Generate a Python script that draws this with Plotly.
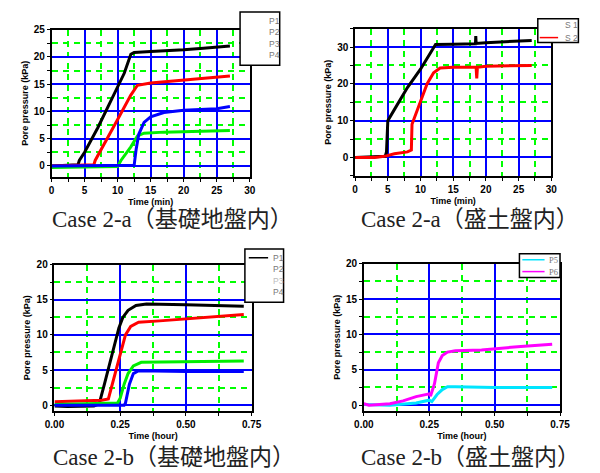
import plotly.graph_objects as go

W, H = 600, 473
def px(x): return x / W
def py(y): return 1 - y / H

# ---------------- data ----------------
# Case 2-a (foundation ground), time in min
a1_P1_t = [0, 2, 4.0, 4.2, 5, 7, 9, 11, 12.0, 12.5, 15, 18, 20, 23, 25, 27]
a1_P1_v = [0, 0.1, 0.2, 1.0, 2.5, 7, 12, 17, 20.5, 20.8, 21.0, 21.1, 21.3, 21.6, 21.8, 22.0]
a1_P2_t = [0, 3, 6.4, 6.6, 8, 10, 12, 13, 15, 18, 20, 23, 25, 27]
a1_P2_v = [0, 0.1, 0.2, 1.0, 4, 8.5, 13, 14.8, 15.2, 15.5, 15.8, 16.1, 16.3, 16.5]
a1_P3_t = [0, 5, 10, 10.5, 12, 13, 14, 17, 20, 23, 27]
a1_P3_v = [-0.3, -0.2, -0.1, 1.0, 3.5, 5.5, 6.0, 6.2, 6.3, 6.4, 6.5]
a1_P4_t = [0, 5, 12.5, 12.8, 13.2, 14, 15, 17, 20, 25, 27]
a1_P4_v = [0, 0, 0.1, 3.0, 5.8, 8.0, 9.0, 9.8, 10.2, 10.5, 10.9]

# Case 2-a (embankment), time in min
a2_S1_t = [0, 3, 4.6, 4.8, 5.0, 6, 8, 10, 12.3, 15, 18.4, 18.45, 18.5, 20, 25, 27]
a2_S1_v = [0, 0.1, 0.3, 1.5, 10, 13, 19, 24, 30.7, 30.8, 30.9, 33, 31, 31.2, 31.5, 31.8]
a2_S2_t = [0, 3, 4.5, 6, 8, 8.6, 8.7, 9, 10, 11, 12, 13, 15, 18.5, 18.6, 18.7, 20, 25, 27]
a2_S2_v = [0, 0, 0.3, 1.0, 1.5, 2.0, 9.0, 10.5, 15, 20, 23, 24.3, 24.5, 24.5, 21.5, 24.5, 24.8, 25, 25]

# Case 2-b (foundation ground), time in hour
b1_P1_t = [0, 0.05, 0.15, 0.17, 0.19, 0.21, 0.23, 0.245, 0.26, 0.28, 0.31, 0.35, 0.5, 0.72]
b1_P1_v = [-0.1, -0.2, -0.1, 0.2, 3, 6, 9, 11, 12.5, 13.5, 14.2, 14.4, 14.3, 14.1]
b1_P2_t = [0, 0.1, 0.18, 0.205, 0.22, 0.24, 0.255, 0.27, 0.29, 0.32, 0.4, 0.55, 0.72]
b1_P2_v = [0.5, 0.6, 0.7, 0.9, 3, 6, 8, 10, 11.2, 11.8, 12.0, 12.4, 12.9]
b1_P3_t = [0, 0.24, 0.25, 0.265, 0.28, 0.3, 0.33, 0.5, 0.72]
b1_P3_v = [0.1, 0.3, 1.0, 3.0, 4.5, 5.6, 6.1, 6.2, 6.3]
b1_P4_t = [0, 0.265, 0.27, 0.285, 0.3, 0.32, 0.5, 0.72]
b1_P4_v = [0, 0, 0.3, 3.0, 4.5, 4.9, 4.8, 4.8]

# Case 2-b (embankment), time in hour
b2_P5_t = [0, 0.1, 0.2, 0.25, 0.26, 0.28, 0.3, 0.32, 0.35, 0.5, 0.72]
b2_P5_v = [0.1, 0, 0.3, 0.7, 0.5, 1.5, 2.2, 2.6, 2.6, 2.5, 2.5]
b2_P6_t = [0, 0.02, 0.1, 0.15, 0.2, 0.25, 0.255, 0.27, 0.285, 0.3, 0.32, 0.35, 0.45, 0.5, 0.6, 0.72]
b2_P6_v = [0.2, 0, 0.2, 0.6, 1.2, 1.6, 1.3, 3, 6, 7, 7.5, 7.7, 7.8, 8.0, 8.3, 8.6]

captions = ["Case 2-a（基礎地盤内）", "Case 2-a（盛土盤内）",
            "Case 2-b（基礎地盤内）", "Case 2-b（盛土盤内）"]
y_title = "Pore pressure (kPa)"
x_titles = ["Time (min)", "Time (min)", "Time (hour)", "Time (hour)"]

# ---------------- figure ----------------
fig = go.Figure()
LW = 3
series = [
    ("x", "y", a1_P1_t, a1_P1_v, "black", "P1"),
    ("x", "y", a1_P2_t, a1_P2_v, "red", "P2"),
    ("x", "y", a1_P3_t, a1_P3_v, "#00ee00", "P3"),
    ("x", "y", a1_P4_t, a1_P4_v, "blue", "P4"),
    ("x2", "y2", a2_S1_t, a2_S1_v, "black", "S1"),
    ("x2", "y2", a2_S2_t, a2_S2_v, "red", "S2"),
    ("x3", "y3", b1_P1_t, b1_P1_v, "black", "P1"),
    ("x3", "y3", b1_P2_t, b1_P2_v, "red", "P2"),
    ("x3", "y3", b1_P3_t, b1_P3_v, "#00ee00", "P3"),
    ("x3", "y3", b1_P4_t, b1_P4_v, "blue", "P4"),
    ("x4", "y4", b2_P5_t, b2_P5_v, "#00e5ff", "P5"),
    ("x4", "y4", b2_P6_t, b2_P6_v, "#ff00ff", "P6"),
]
for xa, ya, t, v, c, n in series:
    fig.add_trace(go.Scatter(x=t, y=v, xaxis=xa, yaxis=ya, mode="lines", name=n,
                             line=dict(color=c, width=LW), showlegend=False))

tickfont = dict(family="Liberation Sans, Arial", size=10, color="black", weight="bold")
titlefont = dict(family="Liberation Sans, Arial", size=9, color="black", weight="bold")

def axis(domain, rng, dtick, mdtick, anchor, title, fmt=None, standoff=4):
    d = dict(domain=domain, range=rng, anchor=anchor, tick0=0, dtick=dtick,
             showgrid=True, gridcolor="#0000ff", gridwidth=2,
             zeroline=False, showline=True, linecolor="black", linewidth=1.5, mirror=True,
             ticks="outside", ticklen=3, tickcolor="black", tickwidth=1,
             tickfont=tickfont,
             title=dict(text=title, font=titlefont, standoff=standoff),
             minor=dict(tick0=0, dtick=mdtick, showgrid=True, gridcolor="#00ff00",
                        griddash="6px,5px", gridwidth=2, ticks="outside", ticklen=3,
                        tickcolor="black"))
    if fmt:
        d["tickformat"] = fmt
    return d

dom = {
    1: ((43, 248), (24, 173)),
    2: ((357, 560), (23, 172)),
    3: ((46, 250), (262, 410)),
    4: ((366, 569), (261, 410)),
}
def xd(i): return [px(dom[i][0][0]), px(dom[i][0][1])]
def yd(i): return [py(dom[i][1][1]), py(dom[i][1][0])]

fig.update_layout(
    width=W, height=H, margin=dict(l=0, r=0, t=0, b=0),
    paper_bgcolor="white", plot_bgcolor="white",
    xaxis=axis(xd(1), [0, 30], 5, 2.5, "y", x_titles[0]),
    yaxis=axis(yd(1), [-2, 25], 5, 2.5, "x", y_title),
    xaxis2=axis(xd(2), [0, 30], 5, 2.5, "y2", x_titles[1]),
    yaxis2=axis(yd(2), [-5, 35], 10, 5, "x2", y_title),
    xaxis3=axis(xd(3), [0, 0.75], 0.25, 0.125, "y3", x_titles[2], ".2f"),
    yaxis3=axis(yd(3), [-0.8, 20], 5, 2.5, "x3", y_title),
    xaxis4=axis(xd(4), [0, 0.75], 0.25, 0.125, "y4", x_titles[3], ".2f"),
    yaxis4=axis(yd(4), [-0.8, 20], 5, 2.5, "x4", y_title),
)

# ---------------- legends (boxes, samples, text) ----------------
shapes = []
annos = []
legfont = dict(family="Liberation Sans, Arial", size=8.5, color="#777777")
def box(x0, y0, x1, y1):
    shapes.append(dict(type="rect", xref="paper", yref="paper",
                       x0=px(x0), x1=px(x1), y0=py(y1), y1=py(y0),
                       line=dict(color="black", width=1.5), fillcolor="white", layer="above"))
def sample(x0, x1, y, c):
    shapes.append(dict(type="line", xref="paper", yref="paper",
                       x0=px(x0), x1=px(x1), y0=py(y), y1=py(y),
                       line=dict(color=c, width=1.5), layer="above"))
def ltext(x, y, s, color="#777777", family=None):
    f = dict(legfont, color=color)
    if family:
        f["family"] = family
    annos.append(dict(xref="paper", yref="paper", x=px(x), y=py(y), text=s,
                      showarrow=False, xanchor="left", yanchor="middle", font=f))

box(238, 6, 279, 60)
for i, n in enumerate(["P1", "P2", "P3", "P4"]):
    ltext(266, 15 + 11.7 * i, n)

box(546, 13, 588, 37)
sample(548, 567, 32, "red")
ltext(572, 19, "S 1")
ltext(572, 32, "S 2")

box(243, 246, 283, 300)
sample(247, 267, 255, "black")
for i, n in enumerate(["P1", "P2", "P3", "P4"]):
    ltext(270, 255 + 11.7 * i, n, "#bbbbbb" if n == "P3" else "#777777")

box(527, 251, 569, 275)
sample(530, 553, 257, "#00e5ff")
sample(530, 553, 269, "#ff00ff")
ltext(555, 257, "P5", family="Liberation Serif")
ltext(555, 269, "P6", family="Liberation Serif")

# ---------------- captions ----------------
capfont = dict(family="Liberation Serif, Noto Sans CJK JP", size=23, color="#222222")
for (cx, cy), s in zip([(168, 216), (476, 216), (170, 457), (476, 457)], captions):
    annos.append(dict(xref="paper", yref="paper", x=px(cx), y=py(cy), text=s,
                      showarrow=False, xanchor="center", yanchor="middle", font=capfont))

fig.update_layout(shapes=shapes, annotations=annos)
fig.write_html("out.html")
